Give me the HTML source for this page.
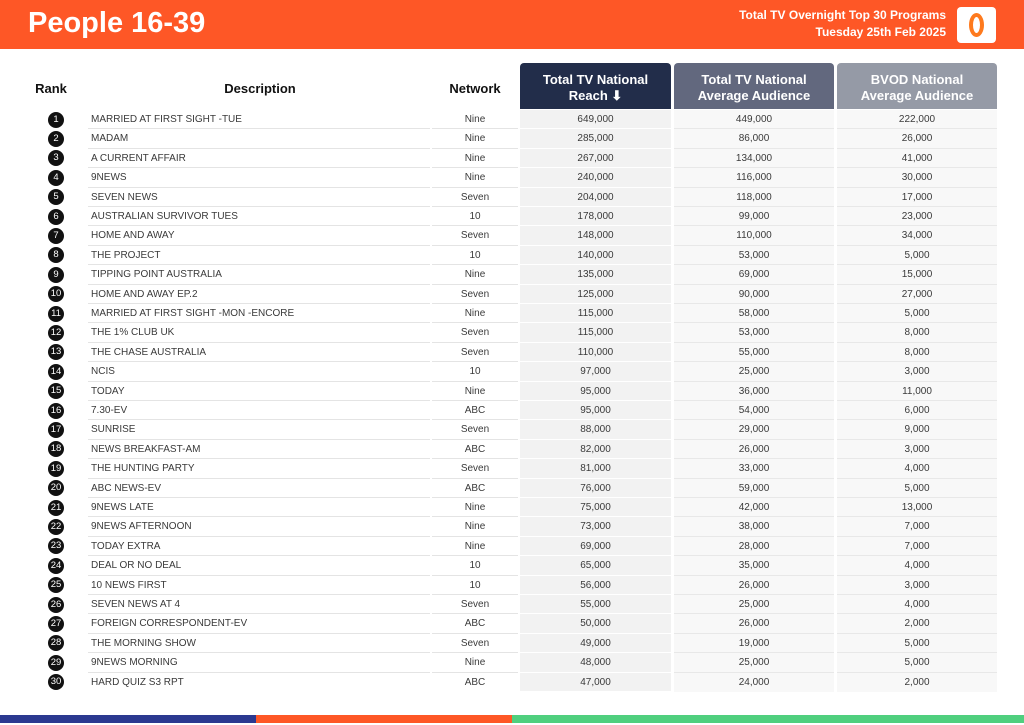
<!DOCTYPE html>
<html><head><meta charset="utf-8"><style>
*{margin:0;padding:0;box-sizing:border-box}
body{width:1024px;height:725px;background:#fff;font-family:"Liberation Sans",Arial,sans-serif;position:relative;overflow:hidden}
.hdr{position:absolute;left:0;top:0;width:1024px;height:49px;background:#fe5726}
.title{position:absolute;left:28px;top:7px;color:#fff;font-size:29px;font-weight:bold}
.sub{position:absolute;right:78px;top:7px;color:#fff;font-size:12px;font-weight:bold;text-align:right;line-height:17px}
.logo{position:absolute;left:957px;top:7px;width:39px;height:36px;background:#fff;border-radius:4px}
.logo div{position:absolute;left:12px;top:6px;width:15px;height:24px;border:4px solid #fe7a1e;border-radius:50%}
.ch{position:absolute;top:81px;font-size:13px;font-weight:bold;color:#111;text-align:center}
.hb{position:absolute;top:63px;height:46px;border-radius:4px 4px 0 0;color:#fff;font-size:13px;font-weight:bold;text-align:center;padding-top:9px;line-height:16px}
.r{position:absolute;left:0;width:1024px;height:19.4px;font-size:10px;color:#3a3a3a}
.r span{position:absolute;top:0;height:19.4px;line-height:20px}
.n{left:48px;width:16px;height:16px!important;top:1.7px!important;border-radius:50%;background:#111;color:#fff;text-align:center;line-height:16px!important;font-size:9.5px}
.d{left:88px;width:342px;padding-left:3px;border-bottom:1px solid #e4e4e4}
.w{left:432px;width:86px;text-align:center;border-bottom:1px solid #e4e4e4}
.a{left:520px;width:151px;text-align:center;background:#f2f2f2;border-bottom:1px solid #fff}
.b{left:674px;width:160px;text-align:center;background:#f8f8f8;border-bottom:1px solid #e8e8e8}
.c{left:837px;width:160px;text-align:center;background:#f8f8f8;border-bottom:1px solid #e8e8e8}
.bar{position:absolute;top:715px;height:8px}
</style></head><body>
<div class="hdr"></div>
<div class="title">People 16-39</div>
<div class="sub">Total TV Overnight Top 30 Programs<br>Tuesday 25th Feb 2025</div>
<div class="logo"><div></div></div>
<div class="ch" style="left:30px;width:42px">Rank</div>
<div class="ch" style="left:170px;width:180px">Description</div>
<div class="ch" style="left:440px;width:70px">Network</div>
<div class="hb" style="left:520px;width:151px;background:#222d4a">Total TV National<br>Reach &#x2B07;&#xFE0E;</div>
<div class="hb" style="left:674px;width:160px;background:#62687e">Total TV National<br>Average Audience</div>
<div class="hb" style="left:837px;width:160px;background:#959aa6">BVOD National<br>Average Audience</div>

<div class="r" style="top:110px"><span class="n">1</span><span class="d">MARRIED AT FIRST SIGHT -TUE</span><span class="w">Nine</span><span class="a">649,000</span><span class="b">449,000</span><span class="c">222,000</span></div>
<div class="r" style="top:129.4px"><span class="n">2</span><span class="d">MADAM</span><span class="w">Nine</span><span class="a">285,000</span><span class="b">86,000</span><span class="c">26,000</span></div>
<div class="r" style="top:148.8px"><span class="n">3</span><span class="d">A CURRENT AFFAIR</span><span class="w">Nine</span><span class="a">267,000</span><span class="b">134,000</span><span class="c">41,000</span></div>
<div class="r" style="top:168.2px"><span class="n">4</span><span class="d">9NEWS</span><span class="w">Nine</span><span class="a">240,000</span><span class="b">116,000</span><span class="c">30,000</span></div>
<div class="r" style="top:187.6px"><span class="n">5</span><span class="d">SEVEN NEWS</span><span class="w">Seven</span><span class="a">204,000</span><span class="b">118,000</span><span class="c">17,000</span></div>
<div class="r" style="top:207px"><span class="n">6</span><span class="d">AUSTRALIAN SURVIVOR TUES</span><span class="w">10</span><span class="a">178,000</span><span class="b">99,000</span><span class="c">23,000</span></div>
<div class="r" style="top:226.4px"><span class="n">7</span><span class="d">HOME AND AWAY</span><span class="w">Seven</span><span class="a">148,000</span><span class="b">110,000</span><span class="c">34,000</span></div>
<div class="r" style="top:245.8px"><span class="n">8</span><span class="d">THE PROJECT</span><span class="w">10</span><span class="a">140,000</span><span class="b">53,000</span><span class="c">5,000</span></div>
<div class="r" style="top:265.2px"><span class="n">9</span><span class="d">TIPPING POINT AUSTRALIA</span><span class="w">Nine</span><span class="a">135,000</span><span class="b">69,000</span><span class="c">15,000</span></div>
<div class="r" style="top:284.6px"><span class="n">10</span><span class="d">HOME AND AWAY EP.2</span><span class="w">Seven</span><span class="a">125,000</span><span class="b">90,000</span><span class="c">27,000</span></div>
<div class="r" style="top:304px"><span class="n">11</span><span class="d">MARRIED AT FIRST SIGHT -MON -ENCORE</span><span class="w">Nine</span><span class="a">115,000</span><span class="b">58,000</span><span class="c">5,000</span></div>
<div class="r" style="top:323.4px"><span class="n">12</span><span class="d">THE 1% CLUB UK</span><span class="w">Seven</span><span class="a">115,000</span><span class="b">53,000</span><span class="c">8,000</span></div>
<div class="r" style="top:342.8px"><span class="n">13</span><span class="d">THE CHASE AUSTRALIA</span><span class="w">Seven</span><span class="a">110,000</span><span class="b">55,000</span><span class="c">8,000</span></div>
<div class="r" style="top:362.2px"><span class="n">14</span><span class="d">NCIS</span><span class="w">10</span><span class="a">97,000</span><span class="b">25,000</span><span class="c">3,000</span></div>
<div class="r" style="top:381.6px"><span class="n">15</span><span class="d">TODAY</span><span class="w">Nine</span><span class="a">95,000</span><span class="b">36,000</span><span class="c">11,000</span></div>
<div class="r" style="top:401px"><span class="n">16</span><span class="d">7.30-EV</span><span class="w">ABC</span><span class="a">95,000</span><span class="b">54,000</span><span class="c">6,000</span></div>
<div class="r" style="top:420.4px"><span class="n">17</span><span class="d">SUNRISE</span><span class="w">Seven</span><span class="a">88,000</span><span class="b">29,000</span><span class="c">9,000</span></div>
<div class="r" style="top:439.8px"><span class="n">18</span><span class="d">NEWS BREAKFAST-AM</span><span class="w">ABC</span><span class="a">82,000</span><span class="b">26,000</span><span class="c">3,000</span></div>
<div class="r" style="top:459.2px"><span class="n">19</span><span class="d">THE HUNTING PARTY</span><span class="w">Seven</span><span class="a">81,000</span><span class="b">33,000</span><span class="c">4,000</span></div>
<div class="r" style="top:478.6px"><span class="n">20</span><span class="d">ABC NEWS-EV</span><span class="w">ABC</span><span class="a">76,000</span><span class="b">59,000</span><span class="c">5,000</span></div>
<div class="r" style="top:498px"><span class="n">21</span><span class="d">9NEWS LATE</span><span class="w">Nine</span><span class="a">75,000</span><span class="b">42,000</span><span class="c">13,000</span></div>
<div class="r" style="top:517.4px"><span class="n">22</span><span class="d">9NEWS AFTERNOON</span><span class="w">Nine</span><span class="a">73,000</span><span class="b">38,000</span><span class="c">7,000</span></div>
<div class="r" style="top:536.8px"><span class="n">23</span><span class="d">TODAY EXTRA</span><span class="w">Nine</span><span class="a">69,000</span><span class="b">28,000</span><span class="c">7,000</span></div>
<div class="r" style="top:556.2px"><span class="n">24</span><span class="d">DEAL OR NO DEAL</span><span class="w">10</span><span class="a">65,000</span><span class="b">35,000</span><span class="c">4,000</span></div>
<div class="r" style="top:575.6px"><span class="n">25</span><span class="d">10 NEWS FIRST</span><span class="w">10</span><span class="a">56,000</span><span class="b">26,000</span><span class="c">3,000</span></div>
<div class="r" style="top:595px"><span class="n">26</span><span class="d">SEVEN NEWS AT 4</span><span class="w">Seven</span><span class="a">55,000</span><span class="b">25,000</span><span class="c">4,000</span></div>
<div class="r" style="top:614.4px"><span class="n">27</span><span class="d">FOREIGN CORRESPONDENT-EV</span><span class="w">ABC</span><span class="a">50,000</span><span class="b">26,000</span><span class="c">2,000</span></div>
<div class="r" style="top:633.8px"><span class="n">28</span><span class="d">THE MORNING SHOW</span><span class="w">Seven</span><span class="a">49,000</span><span class="b">19,000</span><span class="c">5,000</span></div>
<div class="r" style="top:653.2px"><span class="n">29</span><span class="d">9NEWS MORNING</span><span class="w">Nine</span><span class="a">48,000</span><span class="b">25,000</span><span class="c">5,000</span></div>
<div class="r" style="top:672.6px"><span class="n">30</span><span class="d" style="border:0">HARD QUIZ S3 RPT</span><span class="w" style="border:0">ABC</span><span class="a">47,000</span><span class="b" style="border:0">24,000</span><span class="c" style="border:0">2,000</span></div>

<div class="bar" style="left:0;width:256px;background:#2b3990"></div>
<div class="bar" style="left:256px;width:256px;background:#fe5726"></div>
<div class="bar" style="left:512px;width:512px;background:#4fcf7e"></div>
</body></html>
